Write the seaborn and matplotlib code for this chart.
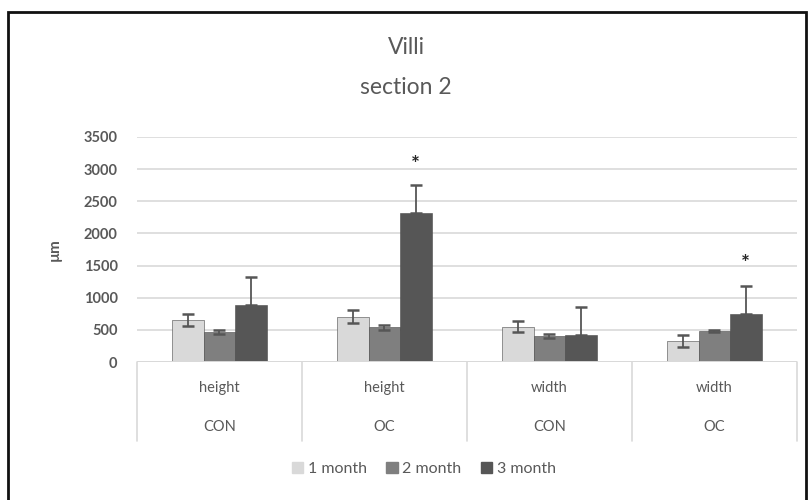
import numpy as np
import pandas as pd
import matplotlib
matplotlib.use("Agg")
import matplotlib.pyplot as plt
from matplotlib.patches import Rectangle
import seaborn as sns

# data
measures   = ["height", "height", "width", "width"]
groups     = ["CON", "OC", "CON", "OC"]
months     = ["1 month", "2 month", "3 month"]
means_1m   = [655, 705, 550, 328]
means_2m   = [470, 540, 405, 478]
means_3m   = [885, 2320, 425, 740]
err_1m     = [90, 100, 85, 90]
err_2m     = [30, 35, 30, 15]
err_3m     = [430, 435, 430, 450]
stars      = [(1, 2), (3, 2)]          # (category index, month index) marked with *
star_y     = [3060, 1520]

cat_keys = [f"{m}\n{g}{i}" for i, (m, g) in enumerate(zip(measures, groups))]
rows = []
for vals, errs, mo in zip([means_1m, means_2m, means_3m], [err_1m, err_2m, err_3m], months):
    for k, v, e in zip(cat_keys, vals, errs):
        rows.append({"cat": k, "month": mo, "value": v, "err": e})
df = pd.DataFrame(rows)

sns.set_style("white")
plt.rcParams["font.family"] = ["Lato", "DejaVu Sans"]
TXT = "#595959"

fig = plt.figure(figsize=(8.12, 5.0), dpi=100)
ax = fig.add_axes([137 / 812, (500 - 362) / 500, 660 / 812, 225 / 500])

palette = {"1 month": "#d9d9d9", "2 month": "#7f7f7f", "3 month": "#565656"}
sns.barplot(data=df, x="cat", y="value", hue="month", order=cat_keys,
            hue_order=months, palette=palette, width=0.57, errorbar=None,
            edgecolor="#4a4a4a", linewidth=0.4, legend=False, ax=ax)

# error bars, placed from the bar patches; on the dark 3-month bars only the
# upper half shows (the lower half is the same colour as the bar)
for cont, mo in zip(ax.containers, months):
    sub = df[df["month"] == mo].set_index("cat").loc[cat_keys]
    xs = [b.get_x() + b.get_width() / 2 for b in cont]
    lower = np.zeros(len(sub)) if mo == "3 month" else sub["err"].to_numpy()
    ax.errorbar(xs, sub["value"], yerr=[lower, sub["err"].to_numpy()], fmt="none",
                ecolor="#565656", elinewidth=1.3, capsize=4, capthick=1.8, zorder=5)

for (ci, mi), sy in zip(stars, star_y):
    b = ax.containers[mi][ci]
    ax.text(b.get_x() + b.get_width() / 2, sy, "*", ha="center", va="center",
            fontsize=15, fontweight="bold", color="#262626")

ax.set_ylim(0, 3500)
ax.set_xlim(-0.5, 3.5)
ax.set_yticks(np.arange(0, 3501, 500))
ax.yaxis.grid(True, color="#d9d9d9", linewidth=1.2)
ax.set_axisbelow(True)
for s in ax.spines.values():
    s.set_visible(False)
ax.axhline(0, color="#d9d9d9", linewidth=1.4, zorder=1.5)
ax.tick_params(axis="y", length=0, pad=14, labelsize=10.5, labelcolor=TXT)
for t in ax.get_yticklabels():
    t.set_fontweight("bold")
ax.set_xticks([])
ax.set_xlabel("")
ax.set_ylabel("µm", fontsize=11, color=TXT, fontweight="bold", labelpad=16)

# two-level category axis
trans = ax.get_xaxis_transform()
for xb in np.arange(-0.5, 4, 1):
    ax.plot([xb, xb], [0, -0.35], transform=trans, color="#d9d9d9",
            linewidth=1.2, clip_on=False)
for i, (m, g) in enumerate(zip(measures, groups)):
    ax.text(i, -0.115, m, transform=trans, ha="center", va="center",
            fontsize=10.5, color=TXT)
    ax.text(i, -0.29, g, transform=trans, ha="center", va="center",
            fontsize=10.5, color=TXT)

# legend
handles = [Rectangle((0, 0), 1, 1, color=palette[m]) for m in months]
fig.legend(handles, months, loc="center", bbox_to_anchor=(424 / 812, 1 - 469 / 500),
           ncol=3, frameon=False, fontsize=11.5, handlelength=0.7, handleheight=0.7,
           handletextpad=0.3, columnspacing=1.2, labelcolor=TXT)

fig.text(0.5, 1 - 48 / 500, "Villi", ha="center", va="center", fontsize=16.5, color=TXT)
fig.text(0.5, 1 - 88 / 500, "section 2", ha="center", va="center", fontsize=16.5, color=TXT)

# outer chart frame
fig.patches.append(Rectangle((8 / 812, -0.05), 798 / 812, 1 - 12 / 500 + 0.05,
                             transform=fig.transFigure, fill=False,
                             edgecolor="#111111", linewidth=2))

fig.savefig("out.png", dpi=100)
